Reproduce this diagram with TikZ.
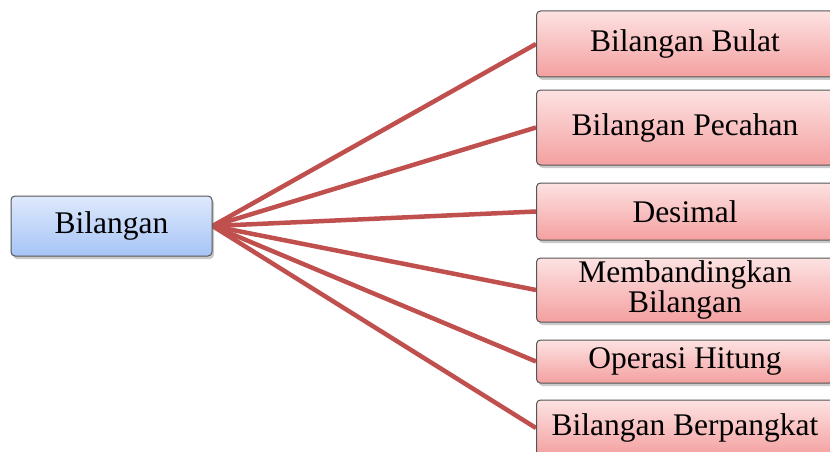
\documentclass[tikz,border=0pt]{standalone}
\usepackage{fontspec}
\setmainfont{Liberation Serif}
\usetikzlibrary{shadows,backgrounds}
\definecolor{linkred}{RGB}{192,80,77}
\definecolor{bluetop}{RGB}{222,233,252}
\definecolor{bluebot}{RGB}{166,196,246}
\definecolor{redtop}{RGB}{253,226,226}
\definecolor{redbot}{RGB}{244,160,160}
\definecolor{boxborder}{RGB}{85,85,85}
\tikzset{
  basebox/.style={draw=boxborder, line width=1pt, rounded corners=4pt,
    inner sep=0pt, font=\fontsize{31.5}{30}\selectfont, align=center,
    drop shadow={shadow xshift=2pt, shadow yshift=-3pt, opacity=0.35, fill=black!60}},
  rootbox/.style={basebox, top color=bluetop, bottom color=bluebot,
    minimum width=201pt, minimum height=60pt},
  leafbox/.style={basebox, top color=redtop, bottom color=redbot,
    minimum width=297pt, anchor=west},
  link/.style={draw=linkred, line width=4.5pt}
}
\begin{document}
\begin{tikzpicture}[x=1pt, y=-1pt]
\useasboundingbox (0,0) rectangle (830,452);
\node[rootbox] (root) at (111.5,226) {Bilangan};
\node[leafbox, minimum height=66pt] (b1) at (536,44) {Bilangan Bulat};
\node[leafbox, minimum height=75pt] (b2) at (536,127.5) {Bilangan Pecahan};
\node[leafbox, minimum height=57pt] (b3) at (536,211.5) {Desimal};
\node[leafbox, minimum height=64pt] (b4) at (536,290) {Membandingkan\\Bilangan};
\node[leafbox, minimum height=43pt] (b5) at (536,361.5) {Operasi Hitung};
\node[leafbox, minimum height=56pt] (b6) at (536,428) {Bilangan Berpangkat};
\begin{scope}[on background layer]
\foreach \n in {b1,b2,b3,b4,b5,b6}{
  \draw[link] (root.east) -- (\n.west);
}
\end{scope}
\end{tikzpicture}
\end{document}
